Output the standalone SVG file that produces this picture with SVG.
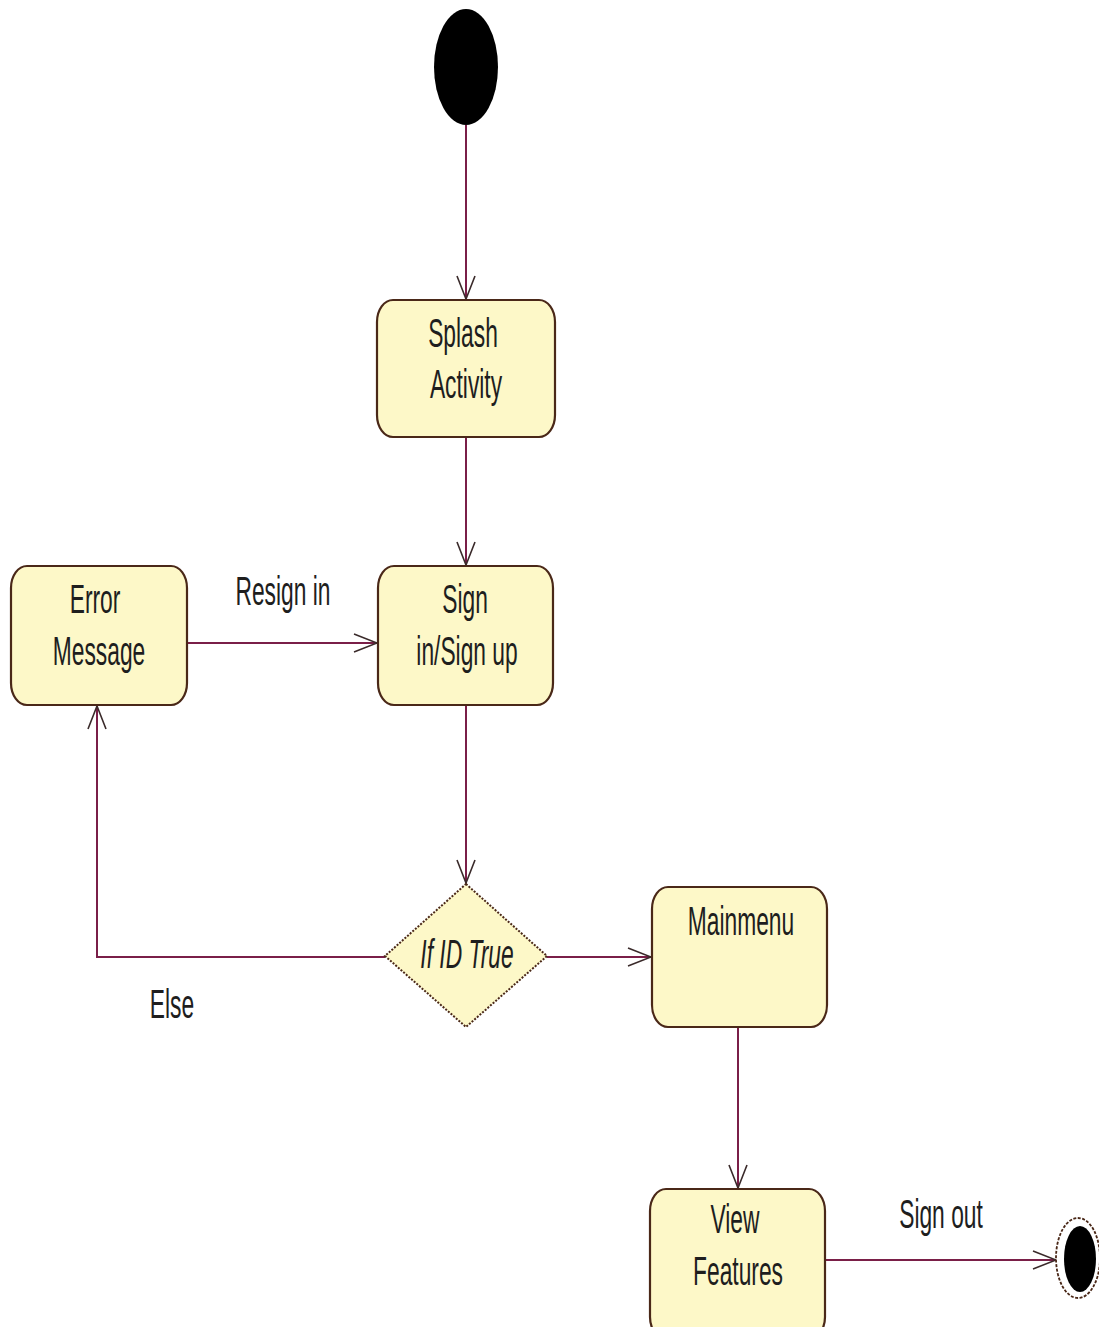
<svg xmlns="http://www.w3.org/2000/svg" width="1099" height="1327" viewBox="0 0 1099 1327">
  <style>
    .act { fill: #fdf8c8; stroke: #4a2818; stroke-width: 2.2; }
    .dec { fill: #fdf8c8; stroke: #4a2818; stroke-width: 2; stroke-dasharray: 2 1.5; }
    .edge { fill: none; stroke: #7a1f48; stroke-width: 2; }
    .lbl { font-family: "Liberation Sans", Arial, sans-serif; font-size: 40px; fill: #1e1e1e; text-anchor: middle; }
    .it { font-style: italic; }
  </style>
  <defs>
    <!-- open V-shaped arrowhead used by every transition -->
    <marker id="open" viewBox="0 0 26 20" refX="24" refY="10" markerWidth="26" markerHeight="20" markerUnits="userSpaceOnUse" orient="auto">
      <path d="M1,1 L24,10 L1,19" fill="none" stroke="#3a2a2a" stroke-width="1.6"/>
    </marker>
  </defs>
  <rect width="1099" height="1327" fill="#ffffff"/>

  <!-- transitions -->
  <g id="connectors">
    <path class="edge" d="M466,125 V299" marker-end="url(#open)"/>
    <path class="edge" d="M466,437 V565" marker-end="url(#open)"/>
    <path class="edge" d="M466,705 V883" marker-end="url(#open)"/>
    <path class="edge" d="M187,643 H377" marker-end="url(#open)"/>
    <path class="edge" d="M385,957 H97 V706" marker-end="url(#open)"/>
    <path class="edge" d="M547,957 H651" marker-end="url(#open)"/>
    <path class="edge" d="M738,1027 V1188" marker-end="url(#open)"/>
    <path class="edge" d="M825,1260 H1056" marker-end="url(#open)"/>
    <g transform="translate(283,605) scale(0.57,1)"><text class="lbl" x="0" y="0">Resign in</text></g>
    <g transform="translate(172,1018) scale(0.57,1)"><text class="lbl" x="0" y="0">Else</text></g>
    <g transform="translate(941,1228) scale(0.57,1)"><text class="lbl" x="0" y="0">Sign out</text></g>
  </g>

  <g id="start">
    <ellipse cx="466" cy="67" rx="32" ry="58" fill="#000000"/>
  </g>

  <g id="splash">
    <rect class="act" x="377" y="300" width="178" height="137" rx="16" ry="22"/>
    <g transform="translate(463,347) scale(0.57,1)"><text class="lbl" x="0" y="0">Splash</text></g>
    <g transform="translate(466,398) scale(0.57,1)"><text class="lbl" x="0" y="0">Activity</text></g>
  </g>

  <g id="signin">
    <rect class="act" x="378" y="566" width="175" height="139" rx="16" ry="22"/>
    <g transform="translate(465,613) scale(0.57,1)"><text class="lbl" x="0" y="0">Sign</text></g>
    <g transform="translate(467,665) scale(0.57,1)"><text class="lbl" x="0" y="0">in/Sign up</text></g>
  </g>

  <g id="error">
    <rect class="act" x="11" y="566" width="176" height="139" rx="16" ry="22"/>
    <g transform="translate(95,613) scale(0.57,1)"><text class="lbl" x="0" y="0">Error</text></g>
    <g transform="translate(99,665) scale(0.57,1)"><text class="lbl" x="0" y="0">Message</text></g>
  </g>

  <g id="decision">
    <polygon class="dec" points="466,884 547,956 466,1027 385,956"/>
    <g transform="translate(467,968) scale(0.57,1)"><text class="lbl it" x="0" y="0">If ID True</text></g>
  </g>

  <g id="mainmenu">
    <rect class="act" x="652" y="887" width="175" height="140" rx="16" ry="22"/>
    <g transform="translate(741,935) scale(0.57,1)"><text class="lbl" x="0" y="0">Mainmenu</text></g>
  </g>

  <g id="viewfeatures">
    <rect class="act" x="650" y="1189" width="175" height="150" rx="16" ry="22"/>
    <g transform="translate(735,1233) scale(0.57,1)"><text class="lbl" x="0" y="0">View</text></g>
    <g transform="translate(738,1285) scale(0.57,1)"><text class="lbl" x="0" y="0">Features</text></g>
  </g>

  <g id="end">
    <ellipse cx="1078" cy="1258" rx="22" ry="40" fill="#ffffff" stroke="#4a2818" stroke-width="1.8" stroke-dasharray="3 1.5"/>
    <ellipse cx="1080" cy="1259" rx="16" ry="33" fill="#000000"/>
  </g>
</svg>
